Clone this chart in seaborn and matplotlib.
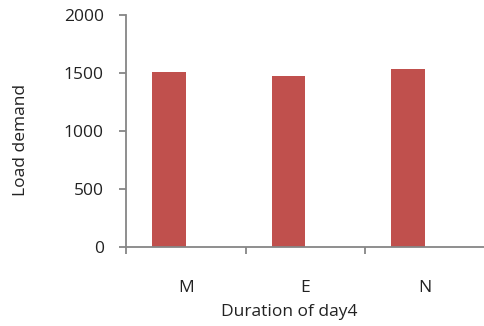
import numpy as np
import pandas as pd
import matplotlib.pyplot as plt
import seaborn as sns

# Data
durations = ["M", "E", "N"]
load_demand = [1505, 1475, 1535]
# Excel-style layout: the real series sits next to an empty slot
blank_series = [0, 0, 0]

df = pd.DataFrame({
    "duration": durations * 2,
    "value": load_demand + blank_series,
    "series": ["load"] * 3 + ["blank"] * 3,
})

sns.set_style("white")
plt.rcParams["font.family"] = ["Open Sans", "DejaVu Sans"]

fig = plt.figure(figsize=(4.85, 3.26), dpi=100)
ax = fig.add_axes([126 / 485, 79 / 326, 1 - 126 / 485, 232 / 326])

sns.barplot(data=df, x="duration", y="value", hue="series",
            hue_order=["load", "blank"], order=durations,
            palette={"load": "#C0504D", "blank": "#C0504D"},
            width=0.567, dodge=True, legend=False, linewidth=0,
            saturation=1, ax=ax)
# hide the empty series
for p in ax.patches[3:]:
    p.set_visible(False)

ax.set_ylim(0, 2000)
ax.set_xlim(-0.5, 2.5)
ax.set_yticks([0, 500, 1000, 1500, 2000])

axis_col = "#868686"
for side in ["top", "right"]:
    ax.spines[side].set_visible(False)
for side in ["left", "bottom"]:
    ax.spines[side].set_color(axis_col)
    ax.spines[side].set_linewidth(1.3)

ax.tick_params(axis="y", direction="out", length=5, width=1.3, color=axis_col,
               pad=11, labelsize=12.5, labelcolor="#222222", left=True)
ax.tick_params(axis="x", which="major", length=0, pad=24, labelsize=12.5,
               labelcolor="#222222")
ax.set_xticks([-0.5, 0.5, 1.5, 2.5], minor=True)
ax.tick_params(axis="x", which="minor", direction="out", length=5, width=1.3,
               color=axis_col, bottom=True)

ax.set_xlabel("Duration of day4", fontsize=12.5, color="#222222")
ax.set_ylabel("Load demand", fontsize=12.5, color="#222222")
ax.xaxis.set_label_coords(0.455, -0.245)
ax.yaxis.set_label_coords(-0.27, 0.46)

fig.savefig("out.png", dpi=100)
